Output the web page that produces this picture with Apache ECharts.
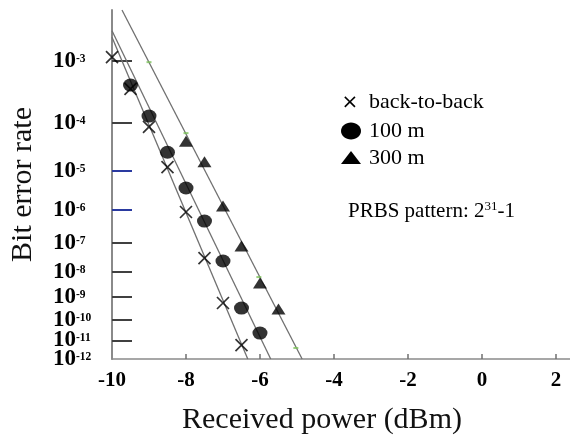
<!DOCTYPE html>
<html>
<head>
<meta charset="utf-8">
<script src="https://cdn.jsdelivr.net/npm/echarts@6/dist/echarts.min.js"></script>
<style>html,body{margin:0;padding:0;background:#fff;}#c{width:570px;height:435px;}</style>
</head>
<body>
<div id="c"></div>
<script>
// Received power (dBm) and BER given as exponent n where BER = 10^-n
const xB2B   = [-10, -9.5, -9, -8.5, -8, -7.5, -7, -6.5];
const berB2B = [2.95, 3.42, 4.08, 4.92, 6.06, 7.51, 9.25, 11.25];
const x100   = [-9.5, -9, -8.5, -8, -7.5, -7, -6.5, -6];
const ber100 = [3.36, 3.88, 4.59, 5.42, 6.32, 7.61, 9.47, 10.64];
const x300   = [-8, -7.5, -7, -6.5, -6, -5.5];
const ber300 = [4.36, 4.80, 5.89, 7.10, 8.43, 9.51];
// fitted lines (end points)
const fitB2BX = [-10, -6.33];  const fitB2BY = [2.69, 12];
const fit100X = [-10, -5.71];  const fit100Y = [2.61, 12];
const fit300X = [-9.73, -4.86]; const fit300Y = [2.37, 12];
// small green marks on the 300 m fit
const mark300X = [-9.0, -8.0, -6.03, -5.03];
const mark300Y = [3.02, 4.20, 8.20, 11.4];
// axis ticks / labels (labels split over two overlaid axes)
const yLabelExpA = [3, 5, 7, 9, 11];
const yLabelExpB = [4, 6, 8, 10, 12];
const yGreyTicks = [3, 4, 7, 8, 9, 10, 11];
const yBlueTicks = [5, 6];
const xTicks = [-10, -8, -6, -4, -2, 0, 2];

const T = n => Math.log10(n);
const pairs = (xs, ys) => xs.map((x, i) => [x, T(ys[i])]);
const SERIF = '"Liberation Serif", "Times New Roman", serif';
const yMin = T(2.37), yMax = T(12);

const yLabel = (values) => ({
  customValues: values.map(T), margin: 59, align: 'left', color: '#000',
  showMinLabel: true, showMaxLabel: true, hideOverlap: false,
  formatter: v => '{b|10}{s|-' + Math.round(Math.pow(10, v)) + '}',
  rich: {
    b: {fontFamily: SERIF, fontWeight: 'bold', fontSize: 23, lineHeight: 16, color: '#000'},
    s: {fontFamily: SERIF, fontWeight: 'bold', fontSize: 11.5, lineHeight: 11, color: '#000', verticalAlign: 'top'}
  }
});

const chart = echarts.init(document.getElementById('c'), null, {renderer: 'canvas'});
const lineStyleFit = {color: '#707070', width: 1.3};
chart.setOption({
  animation: false,
  backgroundColor: '#fff',
  grid: {left: 112, right: 0, top: 10, bottom: 76, containLabel: false, outerBoundsMode: 'none'},
  xAxis: {
    type: 'value', min: -10, max: 2.38,
    splitLine: {show: false},
    axisLine: {onZero: false, lineStyle: {color: '#8a8a8a', width: 1.5}},
    axisTick: {inside: true, length: 5, customValues: xTicks.slice(1), lineStyle: {color: '#707070', width: 1.5}},
    axisLabel: {customValues: xTicks, fontFamily: SERIF, fontWeight: 'bold', fontSize: 21, color: '#000', margin: 11},
    name: 'Received power (dBm)', nameLocation: 'middle', nameGap: 46,
    nameTextStyle: {fontFamily: SERIF, fontSize: 30, color: '#111', padding: [0, 38, 0, 0]}
  },
  yAxis: [{
    type: 'value', inverse: true, min: yMin, max: yMax, position: 'left',
    splitLine: {show: false},
    axisLine: {onZero: false, lineStyle: {color: '#8a8a8a', width: 2}},
    axisTick: {inside: true, length: 20, customValues: yGreyTicks.map(T), lineStyle: {color: '#404040', width: 2}},
    axisLabel: yLabel(yLabelExpA),
    name: 'Bit error rate', nameLocation: 'middle', nameGap: 74,
    nameTextStyle: {fontFamily: SERIF, fontSize: 30, color: '#111'}
  }, {
    type: 'value', inverse: true, min: yMin, max: yMax, position: 'left', offset: 0,
    splitLine: {show: false},
    axisLine: {show: false, onZero: false},
    axisLabel: yLabel(yLabelExpB),
    axisTick: {inside: true, length: 20, customValues: yBlueTicks.map(T), lineStyle: {color: '#2a3aa0', width: 2}}
  }],
  series: [
    {type: 'line', data: pairs(fitB2BX, fitB2BY), symbol: 'none', lineStyle: lineStyleFit, z: 2, silent: true},
    {type: 'line', data: pairs(fit100X, fit100Y), symbol: 'none', lineStyle: lineStyleFit, z: 2, silent: true},
    {type: 'line', data: pairs(fit300X, fit300Y), symbol: 'none', lineStyle: lineStyleFit, z: 2, silent: true},
    {type: 'scatter', data: pairs(mark300X, mark300Y), symbol: 'rect', symbolSize: [5, 2], itemStyle: {color: '#7cc25a'}, z: 3, silent: true},
    {name: 'back-to-back', type: 'scatter', data: pairs(xB2B, berB2B), symbol: 'path://M0,0L10,10M10,0L0,10', symbolSize: 12,
      itemStyle: {color: 'rgba(0,0,0,0)', borderColor: '#000', borderWidth: 1.7}, z: 4},
    {name: '100 m', type: 'scatter', data: pairs(x100, ber100), symbol: 'circle', symbolSize: [15, 13], itemStyle: {color: '#000'}, z: 5},
    {name: '300 m', type: 'scatter', data: pairs(x300, ber300), symbol: 'triangle', symbolSize: [14, 11], itemStyle: {color: '#000'}, z: 5}
  ],
  graphic: [
    {type: 'text', x: 350, y: 103, style: {text: '×', font: '20px "DejaVu Sans"', fill: '#000', align: 'center', verticalAlign: 'middle'}},
    {type: 'text', x: 369, y: 102, style: {text: 'back-to-back', font: '22px ' + SERIF, fill: '#000', verticalAlign: 'middle'}},
    {type: 'ellipse', shape: {cx: 351, cy: 131, rx: 10, ry: 8.5}, style: {fill: '#000'}},
    {type: 'text', x: 369, y: 131, style: {text: '100 m', font: '22px ' + SERIF, fill: '#000', verticalAlign: 'middle'}},
    {type: 'polygon', shape: {points: [[341, 164], [361, 164], [351, 151]]}, style: {fill: '#000'}},
    {type: 'text', x: 369, y: 158, style: {text: '300 m', font: '22px ' + SERIF, fill: '#000', verticalAlign: 'middle'}},
    {type: 'text', x: 348, y: 211, style: {
      text: '{a|PRBS pattern: 2}{s|31}{a|-1}', verticalAlign: 'middle',
      rich: {
        a: {fontFamily: SERIF, fontSize: 21, fill: '#000'},
        s: {fontFamily: SERIF, fontSize: 13, fill: '#000', verticalAlign: 'top'}
      }
    }}
  ]
});
</script>
</body>
</html>
